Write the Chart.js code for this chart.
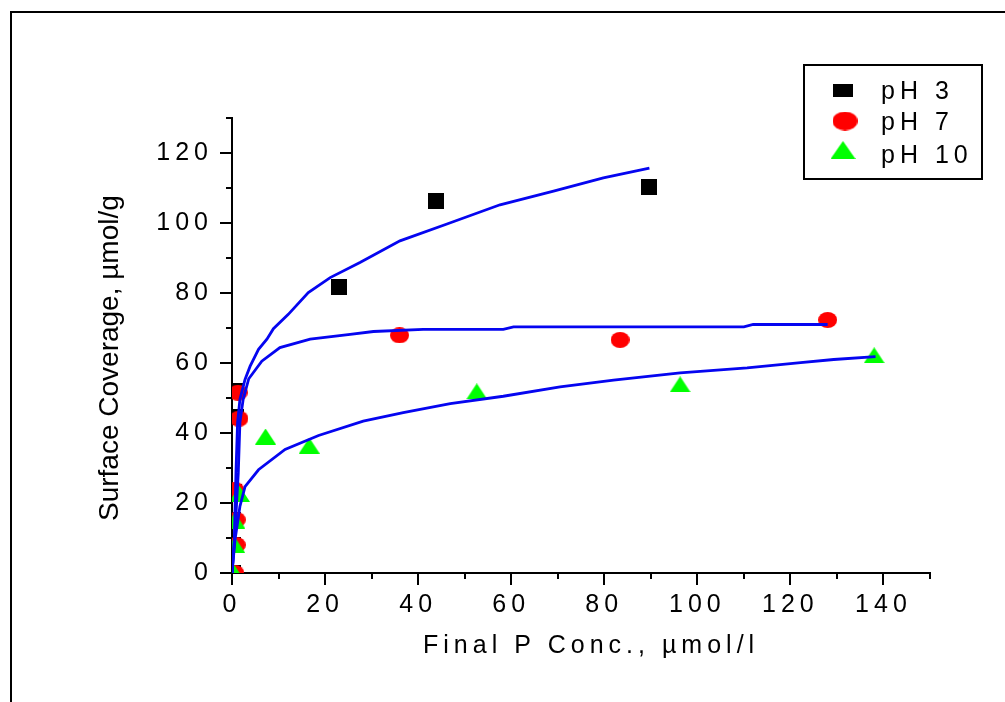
<!DOCTYPE html>
<html>
<head>
<meta charset="utf-8">
<script src="https://cdn.jsdelivr.net/npm/chart.js@4/dist/chart.umd.min.js"></script>
<style>
html,body{margin:0;padding:0;background:#fff;overflow:hidden}
canvas{display:block}
</style>
</head>
<body>
<canvas id="c" width="1005" height="702"></canvas>
<script>
// ---------------- data ----------------
const seriesLabels = ['pH 3', 'pH 7', 'pH 10'];
const xTitle = 'Final P Conc., \u00b5mol/l';
const yTitle = 'Surface Coverage, \u00b5mol/g';

const ph3X = [0.2, 0.2, 0.2, 0.4, 0.8, 0.8, 22.9, 43.9, 89.7];
const ph3Y = [0, 8.1, 15.2, 23.2, 44.6, 52.1, 81.7, 106.4, 110.2];
const ph7X = [0.6, 0.9, 0.9, 0.6, 1.5, 1.3, 36.0, 83.4, 128.0];
const ph7Y = [0, 8.0, 15.2, 23.8, 44.1, 51.5, 67.9, 66.6, 72.3];
const ph10X = [0.5, 0.6, 0.6, 1.6, 7.2, 16.6, 52.6, 96.3, 138.0];
const ph10Y = [0, 8.0, 15.0, 22.6, 39.0, 36.4, 51.9, 53.9, 62.2];

const fit3X = [0, 0.5, 0.85, 1.2, 1.7, 2.8, 3.9, 5.7, 7.5, 8.9, 12.1, 16.4, 21.1, 27.5, 36.1, 46.2, 57.6, 69.1, 79.8, 89.7];
const fit3Y = [0, 9.5, 28.6, 43.0, 49.6, 55.3, 59.1, 63.9, 66.8, 69.8, 73.9, 80.1, 84.4, 88.7, 94.9, 99.7, 105.2, 109.1, 112.9, 115.7];
const fit7X = [0, 0.55, 1.35, 1.7, 2.4, 3.6, 6.4, 10.3, 16.8, 25.4, 30.4, 41.1, 58.3, 60.5, 110.0, 112.0, 128.0];
const fit7Y = [0, 9.5, 28.6, 43.0, 49.6, 55.5, 60.5, 64.4, 66.8, 68.2, 69.0, 69.6, 69.6, 70.3, 70.3, 71.0, 71.0];
const fit10X = [0, 0.65, 1.7, 2.8, 5.7, 11.4, 18.6, 28.2, 36.8, 46.9, 58.3, 70.5, 82.0, 96.3, 110.7, 122.2, 129.3, 138.3];
const fit10Y = [0, 9.5, 19.0, 24.7, 29.5, 35.3, 39.3, 43.4, 45.8, 48.4, 50.5, 53.2, 55.1, 57.2, 58.6, 60.1, 61.0, 61.8];

const xTickValues = [0, 20, 40, 60, 80, 100, 120, 140];
const xMinorValues = [10, 30, 50, 70, 90, 110, 130, 150];
const yTickValues = [0, 20, 40, 60, 80, 100, 120];
const yMinorValues = [10, 30, 50, 70, 90, 110, 130];

// ---------------- styles ----------------
const FONT = "'Liberation Sans', Arial, sans-serif";
const BLUE = '#0505f0';

function marker(kind, w, h, color) {
  const c = document.createElement('canvas');
  c.width = w; c.height = h;
  const g = c.getContext('2d');
  g.fillStyle = color;
  g.beginPath();
  if (kind === 'square') g.rect(0, 0, w, h);
  else if (kind === 'ellipse') g.ellipse(w / 2, h / 2, w / 2, h / 2, 0, 0, Math.PI * 2);
  else { g.moveTo(w / 2, 0); g.lineTo(w, h); g.lineTo(0, h); g.closePath(); }
  g.fill();
  return c;
}
const sqImg = marker('square', 16, 16, '#000000');
const ciImg = marker('ellipse', 19, 16, '#ff0000');
const trImg = marker('tri', 21, 16, '#00ff00');
const legendImgs = [marker('square', 20, 13, '#000000'), marker('ellipse', 25, 19, '#ff0000'), marker('tri', 25, 18, '#00ff00')];

const pts = (xs, ys) => xs.map((x, i) => ({ x: x, y: ys[i] }));

const decor = {
  id: 'decor',
  beforeDraw(chart) {
    const ctx = chart.ctx;
    ctx.save();
    ctx.fillStyle = '#fff';
    ctx.fillRect(0, 0, chart.width, chart.height);
    ctx.strokeStyle = '#000';
    ctx.lineWidth = 2;
    ctx.beginPath();
    ctx.moveTo(11, chart.height + 5);
    ctx.lineTo(11, 12);
    ctx.lineTo(chart.width + 5, 12);
    ctx.stroke();
    ctx.restore();
    ctx.letterSpacing = '5px';
  },
  afterDraw(chart) {
    const ctx = chart.ctx;
    const xs = chart.scales.x, ys = chart.scales.y;
    const left = chart.chartArea.left, bottom = chart.chartArea.bottom;
    ctx.save();
    ctx.strokeStyle = '#000';
    ctx.lineWidth = 2;
    ctx.beginPath();
    xTickValues.forEach(v => { const p = Math.round(xs.getPixelForValue(v)); ctx.moveTo(p, bottom); ctx.lineTo(p, bottom + 12); });
    xMinorValues.forEach(v => { const p = Math.round(xs.getPixelForValue(v)); ctx.moveTo(p, bottom); ctx.lineTo(p, bottom + 6); });
    yTickValues.forEach(v => { const p = Math.round(ys.getPixelForValue(v)); ctx.moveTo(left, p); ctx.lineTo(left - 12, p); });
    yMinorValues.forEach(v => { const p = Math.round(ys.getPixelForValue(v)); ctx.moveTo(left, p); ctx.lineTo(left - 6, p); });
    ctx.stroke();

    // axis titles
    ctx.fillStyle = '#000';
    ctx.textBaseline = 'alphabetic';
    ctx.textAlign = 'left';
    ctx.font = '25px ' + FONT;
    ctx.letterSpacing = '5px';
    ctx.fillText(xTitle, 423, 653);

    ctx.save();
    ctx.translate(118, 521);
    ctx.rotate(-Math.PI / 2);
    ctx.font = '28px ' + FONT;
    ctx.letterSpacing = '0px';
    ctx.fillText(yTitle, 0, 0);
    ctx.restore();

    // legend
    ctx.lineWidth = 2;
    ctx.strokeRect(804, 65, 178, 114);
    const my = [90, 121, 150];
    const mx = [843, 845, 843];
    const ty = [98.5, 129.5, 162.5];
    ctx.font = '25px ' + FONT;
    ctx.letterSpacing = '5px';
    seriesLabels.forEach((lab, i) => {
      const im = legendImgs[i];
      ctx.drawImage(im, mx[i] - im.width / 2, my[i] - im.height / 2);
      ctx.fillText(lab, 881, ty[i]);
    });
    ctx.restore();
  }
};

const axisCommon = {
  type: 'linear',
  z: 1,
  grid: { display: true, drawOnChartArea: false, drawTicks: false, color: 'rgba(0,0,0,0)' },
  border: { display: true, color: '#000', width: 2 },
};

new Chart(document.getElementById('c').getContext('2d'), {
  type: 'scatter',
  data: {
    datasets: [
      { label: 'fit ' + seriesLabels[0], data: pts(fit3X, fit3Y), showLine: true, borderColor: BLUE, borderWidth: 2.8, pointRadius: 0, tension: 0, order: 0, clip: 0 },
      { label: 'fit ' + seriesLabels[1], data: pts(fit7X, fit7Y), showLine: true, borderColor: BLUE, borderWidth: 2.8, pointRadius: 0, tension: 0, order: 0, clip: 0 },
      { label: 'fit ' + seriesLabels[2], data: pts(fit10X, fit10Y), showLine: true, borderColor: BLUE, borderWidth: 2.8, pointRadius: 0, tension: 0, order: 0, clip: 0 },
      { label: seriesLabels[2], data: pts(ph10X, ph10Y), pointStyle: trImg, pointRadius: 8, order: 1, clip: 0 },
      { label: seriesLabels[1], data: pts(ph7X, ph7Y), pointStyle: ciImg, pointRadius: 8, order: 2, clip: 0 },
      { label: seriesLabels[0], data: pts(ph3X, ph3Y), pointStyle: sqImg, pointRadius: 8, order: 3, clip: 0 }
    ]
  },
  options: {
    responsive: false,
    animation: false,
    devicePixelRatio: 1,
    layout: { padding: { left: 100, right: 75, top: 118, bottom: 40 } },
    plugins: { legend: { display: false }, tooltip: { enabled: false } },
    scales: {
      x: Object.assign({}, axisCommon, {
        min: 0, max: 150,
        afterBuildTicks: s => { s.ticks = xTickValues.map(v => ({ value: v })); },
        afterFit: s => { s.height = 89; },
        ticks: { padding: 17, color: '#000', font: { family: FONT, size: 25 }, maxRotation: 0, minRotation: 0, autoSkip: false, callback: v => String(v) }
      }),
      y: Object.assign({}, axisCommon, {
        min: 0, max: 130,
        afterBuildTicks: s => { s.ticks = yTickValues.map(v => ({ value: v })); },
        afterFit: s => { s.width = 132; },
        ticks: { padding: 19, color: '#000', font: { family: FONT, size: 25 }, autoSkip: false, callback: v => String(v) }
      })
    }
  },
  plugins: [decor]
});
</script>
</body>
</html>
